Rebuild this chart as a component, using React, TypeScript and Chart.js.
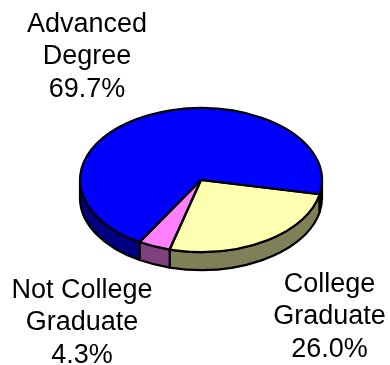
import React, { useEffect, useRef } from "react";
import { Chart, registerables } from "chart.js";

Chart.register(...registerables);

const categories = ["College Graduate", "Not College Graduate", "Advanced Degree"];
const shares = [26.0, 4.3, 69.7];
const labelLines = [
  ["College", "Graduate", "26.0%"],
  ["Not College", "Graduate", "4.3%"],
  ["Advanced", "Degree", "69.7%"],
];
const topColors = ["#FFFFB0", "#FF80FF", "#0000FF"];
const sideColors = ["#808058", "#804080", "#000080"];

const labelAnchors = [
  { x: 329.5, y: 292 },
  { x: 82, y: 298 },
  { x: 87, y: 32 },
];
const LINE_HEIGHT = 32.3;
const SQUASH = 72 / 121;
const DEPTH = 18;
const STROKE = 2.2;

const pie3d = {
  id: "pie3d",
  beforeDatasetsDraw(chart: any) {
    const ctx = chart.ctx;
    const arcs = chart.getDatasetMeta(0).data;
    const { x: cx, y: cy, outerRadius: r } = arcs[0];
    const ry = r * SQUASH;
    // side walls: only the part of each slice that faces the viewer
    arcs.forEach((arc: any, i: number) => {
      [0, 2 * Math.PI].forEach((base) => {
        const a0 = Math.max(arc.startAngle, base);
        const a1 = Math.min(arc.endAngle, base + Math.PI);
        if (a1 <= a0) return;
        ctx.beginPath();
        ctx.ellipse(cx, cy, r, ry, 0, a0, a1);
        ctx.ellipse(cx, cy + DEPTH, r, ry, 0, a1, a0, true);
        ctx.closePath();
        ctx.fillStyle = sideColors[i];
        ctx.fill();
        ctx.lineWidth = STROKE;
        ctx.strokeStyle = "#000";
        ctx.lineJoin = "round";
        ctx.stroke();
      });
    });
    // flatten the library's own arcs into the top face
    ctx.save();
    ctx.translate(cx, cy);
    ctx.scale(1, SQUASH);
    ctx.translate(-cx, -cy);
  },
  afterDatasetsDraw(chart: any) {
    const ctx = chart.ctx;
    ctx.restore();
    const arcs = chart.getDatasetMeta(0).data;
    const { x: cx, y: cy, outerRadius: r } = arcs[0];
    const ry = r * SQUASH;
    ctx.lineWidth = STROKE;
    ctx.strokeStyle = "#000";
    ctx.lineJoin = "round";
    arcs.forEach((arc: any) => {
      ctx.beginPath();
      ctx.moveTo(cx, cy);
      ctx.ellipse(cx, cy, r, ry, 0, arc.startAngle, arc.endAngle);
      ctx.closePath();
      ctx.stroke();
    });
    ctx.fillStyle = "#000";
    ctx.font = '27px "Liberation Sans", Arial, sans-serif';
    ctx.textAlign = "center";
    ctx.textBaseline = "alphabetic";
    labelLines.forEach((lines, i) => {
      lines.forEach((t, j) => {
        ctx.fillText(t, labelAnchors[i].x, labelAnchors[i].y + j * LINE_HEIGHT);
      });
    });
  },
};

export default function App() {
  const ref = useRef<HTMLCanvasElement>(null);
  useEffect(() => {
    const chart = new Chart(ref.current as HTMLCanvasElement, {
      type: "pie",
      data: {
        labels: categories,
        datasets: [
          {
            data: shares,
            backgroundColor: topColors,
            borderWidth: 0,
          },
        ],
      },
      options: {
        responsive: false,
        animation: false,
        rotation: 101.4,
        layout: { padding: { left: 80, right: 68, top: 59, bottom: 64 } },
        plugins: { legend: { display: false }, tooltip: { enabled: false } },
      },
      plugins: [pie3d],
    } as any);
    return () => chart.destroy();
  }, []);
  return (
    <div style={{ position: "absolute", left: 0, top: 0, width: 390, height: 365, background: "#fff" }}>
      <canvas ref={ref} width={390} height={365} style={{ display: "block" }} />
    </div>
  );
}
